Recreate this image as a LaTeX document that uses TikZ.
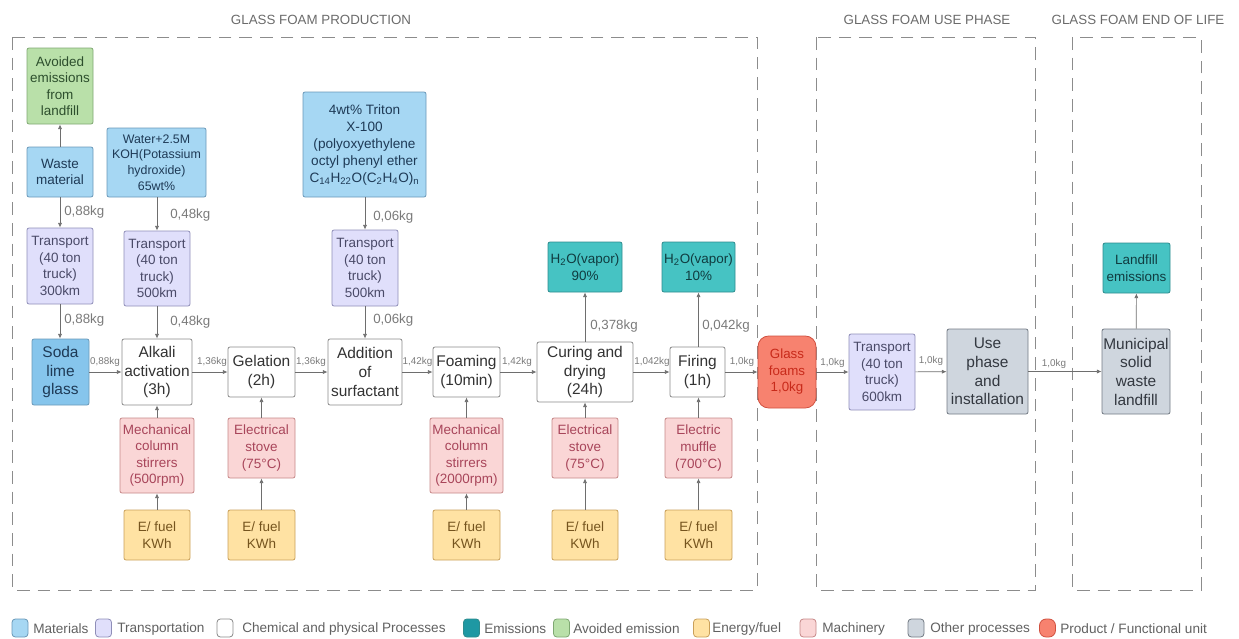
\documentclass[tikz,border=0pt]{standalone}
\usepackage{fontspec}
\setmainfont{Liberation Sans}
\usetikzlibrary{arrows.meta}
\definecolor{matfill}{HTML}{A6D7F3}
\definecolor{matdark}{HTML}{86C5EC}
\definecolor{matdraw}{HTML}{6A98B8}
\definecolor{mattext}{HTML}{1E3A56}
\definecolor{trfill}{HTML}{E0DFFB}
\definecolor{trdraw}{HTML}{8F8EB8}
\definecolor{trtext}{HTML}{4A4A68}
\definecolor{prdraw}{HTML}{8A8A8A}
\definecolor{prtext}{HTML}{333333}
\definecolor{emfill}{HTML}{46C3C3}
\definecolor{emdraw}{HTML}{2E8C8E}
\definecolor{emtext}{HTML}{103C40}
\definecolor{emleg}{HTML}{1E98A3}
\definecolor{avfill}{HTML}{B9E0A9}
\definecolor{avdraw}{HTML}{7FA872}
\definecolor{avtext}{HTML}{2D4F2D}
\definecolor{enfill}{HTML}{FFE2A3}
\definecolor{endraw}{HTML}{C9A05A}
\definecolor{entext}{HTML}{75541E}
\definecolor{mafill}{HTML}{FAD6D6}
\definecolor{madraw}{HTML}{C68888}
\definecolor{matxt}{HTML}{A8455A}
\definecolor{otfill}{HTML}{CFD6DE}
\definecolor{otdraw}{HTML}{737B84}
\definecolor{otext}{HTML}{333840}
\definecolor{pdfill}{HTML}{F7826F}
\definecolor{pddraw}{HTML}{D0503F}
\definecolor{pdtext}{HTML}{C82A1A}
\definecolor{linec}{HTML}{6E6E6E}
\definecolor{labc}{HTML}{7A7A7A}
\definecolor{dashc}{HTML}{8C8C8C}
\newcommand\bx[7]{\node[#2, minimum width={(#5-#3)*0.75pt}, minimum height={(#6-#4)*0.75pt}] (#1) at ({(#3+#5)/2},{(#4+#6)/2}) {#7};}
\begin{document}
\begin{tikzpicture}[x=0.75pt,y=-0.75pt,
  base/.style={draw, rounded corners=1.5pt, align=center, inner sep=1pt, line width=0.6pt},
  sm/.style={font=\fontsize{10.1}{12.4}\selectfont},
  lg/.style={font=\fontsize{11.6}{14}\selectfont},
  mat/.style={base, sm, fill=matfill, draw=matdraw, text=mattext},
  tra/.style={base, sm, fill=trfill, draw=trdraw, text=trtext},
  pro/.style={base, lg, fill=white, draw=prdraw, text=prtext},
  emi/.style={base, sm, fill=emfill, draw=emdraw, text=emtext},
  avo/.style={base, sm, fill=avfill, draw=avdraw, text=avtext},
  ene/.style={base, sm, fill=enfill, draw=endraw, text=entext},
  mac/.style={base, sm, fill=mafill, draw=madraw, text=matxt},
  oth/.style={base, lg, fill=otfill, draw=otdraw, text=otext},
  prod/.style={base, sm, rounded corners=8pt, fill=pdfill, draw=pddraw, text=pdtext},
  arr/.style={draw=linec, line width=0.5pt, -{Latex[length=3.5pt,width=3pt]}},
  lab/.style={font=\fontsize{10}{12}\selectfont, text=labc, inner sep=0pt},
  slab/.style={font=\fontsize{7.4}{9}\selectfont, text=labc, inner sep=0pt},
  phase/.style={draw=dashc, line width=0.75pt, dash pattern=on 9.5pt off 6pt},
  title/.style={font=\fontsize{10}{12}\selectfont, text=black!58, inner sep=0pt},
  legsq/.style={draw, line width=0.6pt, rounded corners=2.5pt, minimum width=12pt, minimum height=13.5pt, inner sep=0pt},
  legtxt/.style={font=\fontsize{10.2}{12}\selectfont, text=black!62, inner sep=0pt, anchor=west}
]
\useasboundingbox (0,0) rectangle (1239,639);

% phase frames
\draw[phase] (12,37) rectangle (757,590);
\draw[phase] (816,37) rectangle (1035,590);
\draw[phase] (1072,37) rectangle (1201,590);
\node[title] (t1) at (321,20) {GLASS FOAM PRODUCTION};
\node[title] (t2) at (927,20) {GLASS FOAM USE PHASE};
\node[title] (t3) at (1138,20) {GLASS FOAM END OF LIFE};

% upper inputs
\bx{avoided}{avo}{27}{48}{93}{124}{Avoided\\emissions\\from\\landfill}
\bx{waste}{mat}{27}{147}{93}{197}{Waste\\material}
\bx{water}{mat, font=\fontsize{9.3}{11.7}\selectfont}{107}{128}{206}{197}{Water+2.5M\\KOH(Potassium\\hydroxide)\\65wt\%}
\bx{triton}{mat, font=\fontsize{10.2}{12.75}\selectfont}{303}{92}{426}{197}{4wt\% Triton\\X-100\\(polyoxyethylene\\octyl phenyl ether\\C\textsubscript{14}H\textsubscript{22}O(C\textsubscript{2}H\textsubscript{4}O)\textsubscript{n}}
\bx{tr1}{tra}{27}{228}{93}{304}{Transport\\(40 ton\\truck)\\300km}
\bx{tr2}{tra}{124}{231}{190}{306}{Transport\\(40 ton\\truck)\\500km}
\bx{tr3}{tra}{332}{230}{398}{306}{Transport\\(40 ton\\truck)\\500km}
\bx{h2oa}{emi}{548}{242}{622}{292}{H\textsubscript{2}O(vapor)\\90\%}
\bx{h2ob}{emi}{662}{242}{735}{292}{H\textsubscript{2}O(vapor)\\10\%}
\bx{lfem}{emi}{1103}{243}{1170}{293}{Landfill\\emissions}

% main row
\bx{soda}{mat, lg, fill=matdark}{32}{339}{89}{405}{Soda\\lime\\glass}
\bx{alkali}{pro}{122}{339}{192}{405}{Alkali\\activation\\(3h)}
\bx{gel}{pro}{228}{347}{295}{397}{Gelation\\(2h)}
\bx{addsurf}{pro}{328}{339}{402}{405}{Addition\\of\\surfactant}
\bx{foam}{pro}{433}{347}{500}{397}{Foaming\\(10min)}
\bx{cure}{pro}{537}{342}{633}{402}{Curing and\\drying\\(24h)}
\bx{fire}{pro}{670}{347}{725}{397}{Firing\\(1h)}
\bx{glass}{prod, font=\fontsize{10}{12.4}\selectfont}{758}{336}{816}{408}{Glass\\foams\\1,0kg}
\bx{tr4}{tra}{849}{334}{915}{410}{Transport\\(40 ton\\truck)\\600km}
\bx{use}{oth}{947}{329}{1028}{414}{Use\\phase\\and\\installation}
\bx{muni}{oth}{1103}{329}{1169}{414}{Municipal\\solid\\waste\\landfill}

% machinery
\bx{mac1}{mac}{120}{418}{194}{493}{Mechanical\\column\\stirrers\\(500rpm)}
\bx{mac2}{mac}{228}{418}{295}{478}{Electrical\\stove\\(75°C)}
\bx{mac3}{mac}{430}{418}{503}{493}{Mechanical\\column\\stirrers\\(2000rpm)}
\bx{mac4}{mac}{552}{418}{618}{478}{Electrical\\stove\\(75°C)}
\bx{mac5}{mac}{665}{418}{732}{478}{Electric\\muffle\\(700°C)}

% energy
\bx{en1}{ene}{124}{510}{190}{560}{E/ fuel\\KWh}
\bx{en2}{ene}{228}{510}{295}{560}{E/ fuel\\KWh}
\bx{en3}{ene}{433}{510}{500}{560}{E/ fuel\\KWh}
\bx{en4}{ene}{552}{510}{618}{560}{E/ fuel\\KWh}
\bx{en5}{ene}{665}{510}{732}{560}{E/ fuel\\KWh}

% vertical connectors
\draw[arr] (waste) -- (avoided);
\draw[arr] (waste) -- (tr1);
\draw[arr] (tr1) -- (soda.north -| tr1.south);
\draw[arr] (water.south -| tr2.north) -- (tr2);
\draw[arr] (tr2) -- (alkali.north -| tr2.south);
\draw[arr] (triton.south -| tr3.north) -- (tr3);
\draw[arr] (tr3) -- (addsurf.north -| tr3.south);
\draw[arr] (cure) -- (h2oa);
\draw[arr] (fire.north -| h2ob.south) -- (h2ob);
\draw[arr] (muni) -- (lfem);
\foreach \m/\p in {mac1/alkali, mac2/gel, mac3/foam, mac4/cure, mac5/fire}{
  \draw[arr] (\m) -- (\p.south -| \m.north);
}
\foreach \e/\m in {en1/mac1, en2/mac2, en3/mac3, en4/mac4, en5/mac5}{
  \draw[arr] (\e) -- (\m);
}
\node[lab, anchor=west] (q1) at (64,212) {0,88kg};
\node[lab, anchor=west] (q2) at (64,320) {0,88kg};
\node[lab, anchor=west] (q3) at (170,215) {0,48kg};
\node[lab, anchor=west] (q4) at (170,322) {0,48kg};
\node[lab, anchor=west] (q5) at (373,217) {0,06kg};
\node[lab, anchor=west] (q6) at (373,320) {0,06kg};
\node[lab, anchor=west] (q7) at (590,326) {0,378kg};
\node[lab, anchor=west] (q8) at (702,326) {0,042kg};

% horizontal chain
\draw[arr] (soda) -- (alkali);
\draw[arr] (alkali) -- (gel);
\draw[arr] (gel) -- (addsurf);
\draw[arr] (addsurf) -- (foam);
\draw[arr] (foam) -- (cure);
\draw[arr] (cure) -- (fire);
\draw[arr] (fire) -- (glass.west |- fire.east);
\draw[arr] (glass.east |- tr4.west) -- (tr4);
\draw[arr] (tr4) -- (use);
\draw[arr] (use) -- (muni);
\node[slab] (f1) at (105,362) {0,88kg};
\node[slab] (f2) at (212,362) {1,36kg};
\node[slab] (f3) at (311,362) {1,36kg};
\node[slab] (f4) at (417.5,362) {1,42kg};
\node[slab] (f5) at (517,362) {1,42kg};
\node[slab] (f6) at (652,362) {1,042kg};
\node[slab] (f7) at (742,362) {1,0kg};
\node[slab] (f8) at (832.5,363) {1,0kg};
\node[slab] (f9) at (931,361) {1,0kg};
\node[slab] (f10) at (1054,364) {1,0kg};

% legend
\node[legsq, fill=matfill, draw=matdraw] (k1) at (20,628) {};
\node[legtxt] (k1t) at (33,629) {Materials};
\node[legsq, fill=trfill, draw=trdraw] (k2) at (103.5,628) {};
\node[legtxt] (k2t) at (117,629) {Transportation};
\node[legsq, fill=white, draw=prdraw] (k3) at (225,628) {};
\node[legtxt] (k3t) at (242,629) {Chemical and physical Processes};
\node[legsq, fill=emleg, draw=emdraw] (k4) at (471.5,628) {};
\node[legtxt] (k4t) at (484,629) {Emissions};
\node[legsq, fill=avfill, draw=avdraw] (k5) at (561.5,628) {};
\node[legtxt] (k5t) at (573,629) {Avoided emission};
\node[legsq, fill=enfill, draw=endraw] (k6) at (701.5,628) {};
\node[legtxt] (k6t) at (712,629) {Energy/fuel};
\node[legsq, fill=mafill, draw=madraw] (k7) at (808,628) {};
\node[legtxt] (k7t) at (822,629) {Machinery};
\node[legsq, fill=otfill, draw=otdraw] (k8) at (916,628) {};
\node[legtxt] (k8t) at (930,629) {Other processes};
\node[legsq, fill=pdfill, draw=pddraw, rounded corners=5pt] (k9) at (1047.5,628) {};
\node[legtxt] (k9t) at (1060,629) {Product / Functional unit};
\end{tikzpicture}
\end{document}
